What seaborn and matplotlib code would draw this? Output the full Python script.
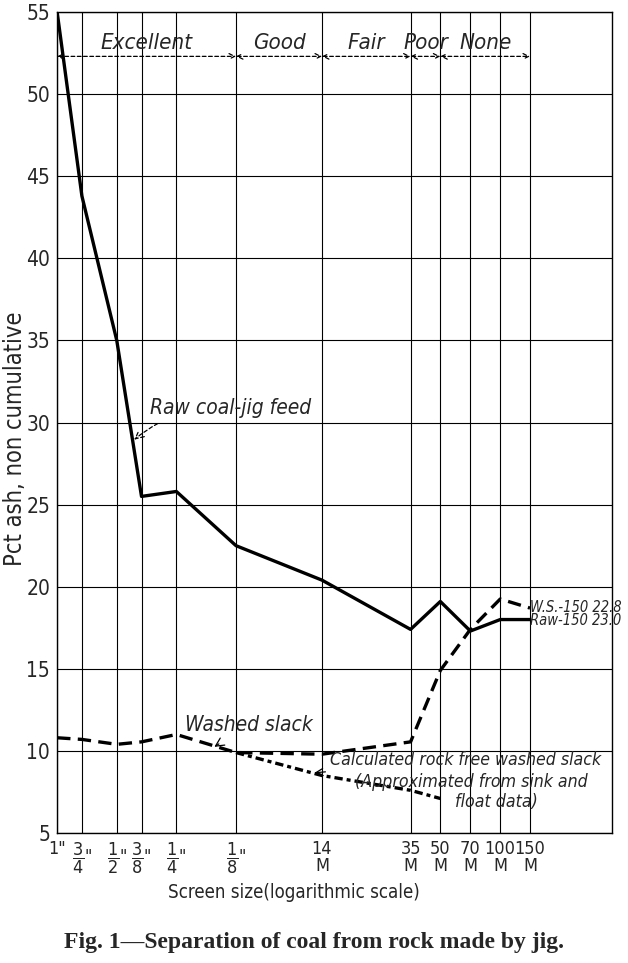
import numpy as np
import pandas as pd
import matplotlib
matplotlib.use("Agg")
import matplotlib.pyplot as plt
from matplotlib.ticker import NullLocator, FixedLocator
import seaborn as sns

# ---------------- data ----------------
sieve_mm = [25.4, 19.05, 12.7, 9.525, 6.35, 3.175, 1.168, 0.417, 0.295, 0.208, 0.147, 0.104]
sieve_labels = ['1"', r'$\dfrac{3}{4}$"', r'$\dfrac{1}{2}$"', r'$\dfrac{3}{8}$"', r'$\dfrac{1}{4}$"',
                r'$\dfrac{1}{8}$"', '14\nM', '35\nM', '50\nM', '70\nM', '100\nM', '150\nM']
raw_ash = [55.0, 43.8, 35.0, 25.5, 25.8, 22.5, 20.4, 17.4, 19.1, 17.3, 18.0, 18.0]
washed_ash = [10.8, 10.7, 10.4, 10.55, 11.0, 9.9, 9.8, 10.55, 14.9, 17.4, 19.25, 18.7]
rockfree_mm = [3.175, 1.168, 0.417, 0.295]
rockfree_ash = [9.9, 8.5, 7.6, 7.1]
band_edges_mm = [25.4, 3.175, 1.168, 0.417, 0.295, 0.104]
band_names = ["Excellent", "Good", "Fair", "Poor", "None"]
y_ticks = [5, 10, 15, 20, 25, 30, 35, 40, 45, 50, 55]

df = pd.concat([
    pd.DataFrame({"size": sieve_mm, "ash": raw_ash, "series": "Raw coal-jig feed"}),
    pd.DataFrame({"size": sieve_mm, "ash": washed_ash, "series": "Washed slack"}),
    pd.DataFrame({"size": rockfree_mm, "ash": rockfree_ash, "series": "Rock free"}),
], ignore_index=True)

# ---------------- style ----------------
sns.set_style("white")
plt.rcParams["font.family"] = ["DejaVu Sans"]
plt.rcParams["font.stretch"] = "condensed"
plt.rcParams["mathtext.fontset"] = "dejavusans"

fig = plt.figure(figsize=(6.28, 9.63), dpi=100)
ax = fig.add_axes([0.091, 0.135, 0.8838, 0.8525])

sns.lineplot(data=df, x="size", y="ash", hue="series", style="series",
             palette={"Raw coal-jig feed": "black", "Washed slack": "black", "Rock free": "black"},
             dashes={"Raw coal-jig feed": "", "Washed slack": (4, 2.2), "Rock free": (2.5, 1.2, 1.2, 1.2)},
             sort=False, estimator=None, legend=False, lw=2.4, ax=ax)

ax.set_xscale("log")
ax.set_xlim(25.4, 0.040)
ax.set_ylim(5, 55)
ax.xaxis.set_major_locator(FixedLocator(sieve_mm))
ax.xaxis.set_minor_locator(NullLocator())
ax.set_xticklabels(sieve_labels, fontsize=13, linespacing=0.95)
ax.set_yticks(y_ticks)
ax.set_yticklabels([str(v) for v in y_ticks], fontsize=15)
ax.grid(True, color="black", lw=0.8)
ax.tick_params(axis="both", length=3, color="black", pad=2)
for s in ax.spines.values():
    s.set_color("black")
    s.set_linewidth(1.0)
ax.set_xlabel("")
ax.set_ylabel("Pct ash, non cumulative", fontsize=17, va="center")
ax.yaxis.set_label_coords(-0.0757, 0.48)

# quality bands
yb = 52.3
for i, name in enumerate(band_names):
    a, b = band_edges_mm[i], band_edges_mm[i + 1]
    ax.annotate("", xy=(b, yb), xytext=(a, yb),
                arrowprops=dict(arrowstyle="<->", linestyle=(0, (3, 2)), lw=0.9, color="black",
                                shrinkA=0, shrinkB=0))
    ax.text(np.sqrt(a * b), 53.1, name, ha="center", va="center", fontsize=16, style="italic")

# annotations
ax.annotate("Raw coal-jig feed", xy=(10.5, 28.9), xytext=(8.6, 30.9),
            fontsize=15, style="italic", va="center", ha="left",
            arrowprops=dict(arrowstyle="->", linestyle=(0, (3, 2)), lw=0.9, color="black",
                            connectionstyle="arc3,rad=0.2", shrinkA=4, shrinkB=1))
ax.annotate("Washed slack", xy=(4.14, 10.2), xytext=(5.75, 11.6),
            fontsize=15, style="italic", va="center", ha="left",
            arrowprops=dict(arrowstyle="->", lw=0.9, color="black", shrinkA=8, shrinkB=1))
ax.annotate("Calculated rock free washed slack", xy=(1.295, 8.66), xytext=(1.063, 9.45),
            fontsize=12.7, style="italic", va="center", ha="left",
            arrowprops=dict(arrowstyle="->", lw=0.9, color="black", shrinkA=1, shrinkB=1))
ax.text(0.794, 8.1, "(Approximated from sink and", fontsize=12.7, style="italic", va="center", ha="left")
ax.text(0.249, 6.9, "float data)", fontsize=12.7, style="italic", va="center", ha="left")
ax.text(0.104, 18.75, "W.S.-150 22.8", fontsize=10.5, style="italic", va="center", ha="left", clip_on=False)
ax.text(0.104, 17.95, "Raw-150 23.0", fontsize=10.5, style="italic", va="center", ha="left", clip_on=False)

fig.text(0.468, 0.0727, "Screen size(logarithmic scale)", ha="center", va="center", fontsize=13.4)
fig.text(0.5, 0.021, "Fig. 1\u2014Separation of coal from rock made by jig.", ha="center", va="center",
         fontsize=17, fontweight="bold", fontstretch="normal", family=["Liberation Serif", "DejaVu Serif"])

fig.savefig("out.png", dpi=100)
